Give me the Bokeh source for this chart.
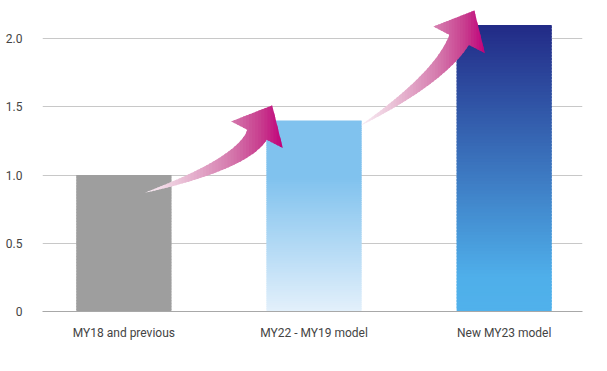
import numpy as np
from bokeh.plotting import figure
from bokeh.models import FixedTicker, Range1d
from bokeh.embed import file_html
from bokeh.resources import INLINE

# ---------------- data ----------------
categories = ["MY18 and previous", "MY22 - MY19 model", "New MY23 model"]
values = [1.0, 1.4, 2.1]
y_ticks = [0, 0.5, 1.0, 1.5, 2.0]
y_tick_labels = ["0", "0.5", "1.0", "1.5", "2.0"]

# gradient stops per bar (fraction of bar height from bottom, colour)
bar_stops = [
    [(0.0, "#9e9e9e"), (1.0, "#9e9e9e")],
    [(0.0, "#e3f0fb"), (0.70, "#80c2ee"), (1.0, "#80c2ee")],
    [(0.0, "#50b1eb"), (0.12, "#4fafea"), (1.0, "#222a86")],
]
arrow_stops = [(0.0, "#faf0f6"), (0.24, "#ebc5d9"), (0.60, "#d67fb0"),
               (0.84, "#c83d8e"), (1.0, "#c0007a")]
# arrow anchors relative to the bar tops they connect (data units)
arrow_tail_offsets = [(0.11, -0.13), (0.245, -0.037)]
arrow_tip_offsets = [(-0.22, 0.11), (-0.157, 0.105)]
arrow_tail_dirs = [(1.0, 0.30), (1.0, 0.60)]

# ---------------- layout ----------------
X_START, X_END = 0.072, 2.912
Y_START, Y_END = 0.0, 2.22
FRAME_W, FRAME_H = 540, 303
BAR_W = 0.5
centers = [0.5 + i for i in range(len(categories))]

SX = FRAME_W / (X_END - X_START)
SY = FRAME_H / (Y_END - Y_START)


def hex2rgb(h):
    h = h.lstrip("#")
    return np.array([int(h[i:i + 2], 16) for i in (0, 2, 4)], dtype=float)


def interp_color(stops, t):
    t = min(max(t, 0.0), 1.0)
    for (t0, c0), (t1, c1) in zip(stops[:-1], stops[1:]):
        if t <= t1:
            f = 0 if t1 == t0 else (t - t0) / (t1 - t0)
            c = hex2rgb(c0) * (1 - f) + hex2rgb(c1) * f
            return "#%02x%02x%02x" % tuple(int(round(v)) for v in c)
    return stops[-1][1]


p = figure(width=607, height=351,
           x_range=Range1d(X_START, X_END), y_range=Range1d(Y_START, Y_END),
           output_backend="svg", toolbar_location=None,
           min_border_left=42, min_border_right=25,
           min_border_top=8, min_border_bottom=40)
p.outline_line_color = None
p.background_fill_color = "white"
p.border_fill_color = "white"

p.xgrid.grid_line_color = None
p.ygrid.ticker = FixedTicker(ticks=y_ticks)
p.ygrid.grid_line_color = "#c8c8c8"
p.ygrid.grid_line_width = 1

p.yaxis.ticker = FixedTicker(ticks=y_ticks)
p.yaxis.major_label_overrides = {k: v for k, v in zip(y_ticks, y_tick_labels)}
p.yaxis.axis_line_color = None
p.yaxis.major_tick_line_color = None
p.yaxis.minor_tick_line_color = None
p.yaxis.major_label_standoff = 14

p.xaxis.ticker = FixedTicker(ticks=centers)
p.xaxis.major_label_overrides = {c: lab for c, lab in zip(centers, categories)}
p.xaxis.axis_line_color = "#a8a8a8"
p.xaxis.axis_line_width = 1
p.xaxis.major_tick_line_color = None
p.xaxis.minor_tick_line_color = None
p.xaxis.major_label_standoff = 8

for ax in (p.xaxis[0], p.yaxis[0]):
    ax.major_label_text_font = "Roboto"
    ax.major_label_text_font_size = "12px"
    ax.major_label_text_color = "#444444"

# ---------------- gradient bars ----------------
N_SLICES = 90
lefts, rights, bottoms, tops, cols = [], [], [], [], []
for c, v, stops in zip(centers, values, bar_stops):
    edges = np.linspace(0, v, N_SLICES + 1)
    step = v / N_SLICES
    for i in range(N_SLICES):
        lefts.append(c - BAR_W / 2)
        rights.append(c + BAR_W / 2)
        bottoms.append(edges[i])
        tops.append(min(edges[i + 1] + step * 0.6, v))
        cols.append(interp_color(stops, (i + 0.5) / N_SLICES))
p.quad(left=lefts, right=rights, bottom=bottoms, top=tops,
       fill_color=cols, line_color=None)

# ---------------- arrows ----------------
HEAD_DIR = np.array([0.46, 0.89]); HEAD_DIR /= np.linalg.norm(HEAD_DIR)
HEAD_LEN, HEAD_HW, SHAFT_HW = 33.0, 29.0, 11.0


def to_px(x, y):
    return np.array([(x - X_START) * SX, (y - Y_START) * SY])


def to_data(pt):
    return (pt[0] / SX + X_START, pt[1] / SY + Y_START)


def arrow_outline(T, P, tdir):
    tdir = np.array(tdir, dtype=float); tdir /= np.linalg.norm(tdir)
    d = HEAD_DIR
    B = P - HEAD_LEN * d
    A = np.column_stack([tdir, d])
    u, s = np.linalg.solve(A, B - T)
    C = T + u * tdir
    ts = np.linspace(0, 1, 60)
    upper, lower = [], []
    for t in ts:
        q = (1 - t) ** 2 * T + 2 * (1 - t) * t * C + t ** 2 * B
        dq = 2 * (1 - t) * (C - T) + 2 * t * (B - C)
        dq = dq / np.linalg.norm(dq)
        n = np.array([-dq[1], dq[0]])
        w = SHAFT_HW * t ** 0.85
        upper.append(q + w * n)
        lower.append(q - w * n)
    nB = np.array([-d[1], d[0]])
    head = [B + HEAD_HW * nB, P, B - HEAD_HW * nB]
    return upper + head + lower[::-1]


def clip(poly, x0, keep_ge):
    out = []
    n = len(poly)
    inside = (lambda q: q[0] >= x0) if keep_ge else (lambda q: q[0] <= x0)
    for i in range(n):
        cur, prev = poly[i], poly[i - 1]
        ci, pi = inside(cur), inside(prev)
        if ci:
            if not pi:
                f = (x0 - prev[0]) / (cur[0] - prev[0])
                out.append(prev + f * (cur - prev))
            out.append(cur)
        elif pi:
            f = (x0 - prev[0]) / (cur[0] - prev[0])
            out.append(prev + f * (cur - prev))
    return out


axs, ays, acols = [], [], []
for i in range(len(values) - 1):
    T = to_px(centers[i] + arrow_tail_offsets[i][0], values[i] + arrow_tail_offsets[i][1])
    P = to_px(centers[i + 1] + arrow_tip_offsets[i][0], values[i + 1] + arrow_tip_offsets[i][1])
    poly = [np.array(q) for q in arrow_outline(T, P, arrow_tail_dirs[i])]
    xs_all = [q[0] for q in poly]
    xmin, xmax = min(xs_all), max(xs_all)
    M = 45
    bounds = np.linspace(xmin, xmax, M + 1)
    sw = (xmax - xmin) / M
    for k in range(M):
        a, b = bounds[k], min(bounds[k + 1] + sw * 0.5, xmax)
        part = clip(poly, a, True)
        if len(part) < 3:
            continue
        part = clip(part, b, False)
        if len(part) < 3:
            continue
        pts = [to_data(q) for q in part]
        axs.append([q[0] for q in pts])
        ays.append([q[1] for q in pts])
        acols.append(interp_color(arrow_stops, (k + 0.5) / M))
p.patches(xs=axs, ys=ays, fill_color=acols, line_color=None)

open("out.html", "w").write(file_html(p, INLINE))
